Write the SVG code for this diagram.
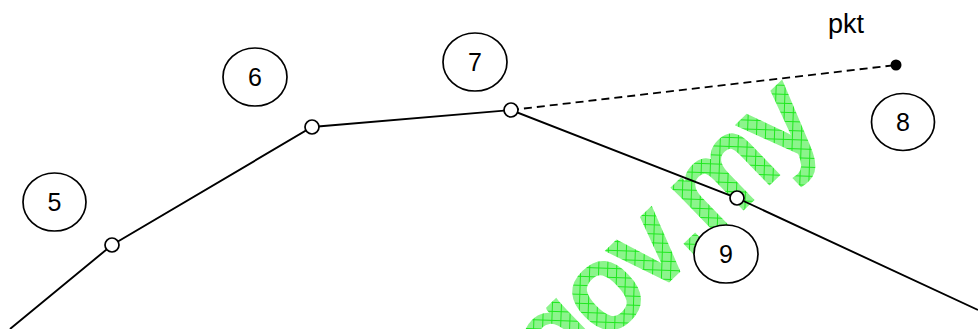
<svg xmlns="http://www.w3.org/2000/svg" width="978" height="329" viewBox="0 0 978 329">
<style>
.lab{fill:#fff;stroke:#000;stroke-width:1.7}
.num{font-family:"Liberation Sans",Arial,sans-serif;font-size:25px;fill:#000;text-anchor:middle}
.pt{fill:#fff;stroke:#000;stroke-width:1.7}
.ln{fill:none;stroke:#000;stroke-width:1.9}
.dash{fill:none;stroke:#000;stroke-width:1.8;stroke-dasharray:8 5}
</style>
<defs>
<pattern id="hatch" width="9" height="9" patternUnits="userSpaceOnUse" patternTransform="rotate(-44)">
<rect width="9" height="9" fill="#8cf48c"/>
<path d="M0 0.5H9M0.5 0V9" stroke="#1ee81e" stroke-width="1"/>
</pattern>
</defs>
<rect width="978" height="329" fill="#fff"/>
<g id="watermark">
<text x="557.5" y="386.7" transform="rotate(-44 557.5 386.7)" font-family="'Liberation Sans',Arial,sans-serif" font-size="118" fill="url(#hatch)" stroke="url(#hatch)" stroke-width="5">gov.my</text>
</g>
<g id="connectors">
<polyline class="ln" points="10,329 112,245 312,127 511,110 737,198 978,310"/>
<line class="dash" x1="511" y1="110" x2="896" y2="65"/>
</g>
<g id="p1"><circle class="pt" cx="112" cy="245" r="7"/></g>
<g id="p2"><circle class="pt" cx="312" cy="127" r="7"/></g>
<g id="p3"><circle class="pt" cx="511" cy="110" r="7"/></g>
<g id="p4"><circle class="pt" cx="737" cy="198" r="7"/></g>
<g id="pkt"><circle cx="896" cy="65" r="5.5" fill="#000"/>
<text x="846" y="33" font-family="'Liberation Sans',Arial,sans-serif" font-size="27" fill="#000" text-anchor="middle">pkt</text></g>
<g id="n5"><ellipse class="lab" cx="54.5" cy="202" rx="31.5" ry="29"/><text class="num" x="54.5" y="211">5</text></g>
<g id="n6"><ellipse class="lab" cx="255" cy="77" rx="32" ry="29"/><text class="num" x="255" y="86">6</text></g>
<g id="n7"><ellipse class="lab" cx="475" cy="62" rx="32" ry="29"/><text class="num" x="475" y="71">7</text></g>
<g id="n8"><ellipse class="lab" cx="903" cy="122" rx="31.5" ry="28.5"/><text class="num" x="903" y="131">8</text></g>
<g id="n9"><ellipse class="lab" cx="726" cy="254" rx="32" ry="29"/><text class="num" x="726" y="263">9</text></g>
</svg>
